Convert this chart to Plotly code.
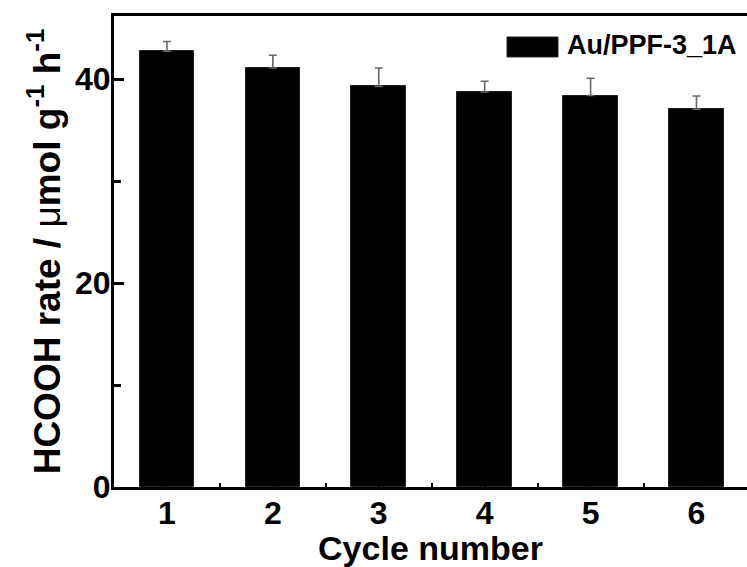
import plotly.graph_objects as go

# Photocatalytic HCOOH production over repeated cycles
cycles = [1, 2, 3, 4, 5, 6]
rates = [42.75, 41.1, 39.3, 38.75, 38.4, 37.05]
errors = [0.95, 1.25, 1.8, 1.05, 1.7, 1.3]
tick_labels = ["1", "2", "3", "4", "5", "6"]
series_name = "Au/PPF-3_1A"

FONT = "Liberation Sans, Arial, sans-serif"

fig = go.Figure()
fig.add_trace(go.Bar(
    x=cycles,
    y=rates,
    width=0.515,
    name=series_name,
    marker=dict(color="black", line=dict(color="#222", width=1)),
    error_y=dict(
        type="data",
        array=errors,
        arrayminus=[0] * len(errors),
        symmetric=False,
        color="#666",
        thickness=1.6,
        width=4,
    ),
    showlegend=False,
))

# legend key drawn as a wide swatch with its label
fig.add_shape(type="rect", xref="paper", yref="paper",
              x0=0.6209, x1=0.7014, y0=0.9130, y1=0.9554,
              fillcolor="black", line=dict(color="#222", width=1))
fig.add_annotation(xref="paper", yref="paper", x=0.7130, y=0.9384,
                   xanchor="left", yanchor="middle", showarrow=False,
                   text="<b>" + series_name + "</b>",
                   font=dict(family=FONT, size=27, color="black"))

fig.update_layout(
    width=747, height=567,
    margin=dict(l=114, r=0, t=16, b=80),
    paper_bgcolor="white", plot_bgcolor="white",
    font=dict(family=FONT, color="black"),
    bargap=0,
)

fig.update_xaxes(
    range=[0.5, 6.477],
    tickvals=cycles, ticktext=["<b>%s</b>" % t for t in tick_labels],
    ticks="inside", ticklen=4, tickwidth=2, tickcolor="black",
    minor=dict(tickvals=[1.5, 2.5, 3.5, 4.5, 5.5], ticks="inside", ticklen=4, tickwidth=2, tickcolor="black"),
    showline=True, linewidth=3, linecolor="black", mirror=True,
    showgrid=False, zeroline=False,
    tickfont=dict(size=32, family=FONT),
    ticklabelstandoff=-4,
    title=dict(text="<b>Cycle number</b>", font=dict(size=34, family=FONT), standoff=0),
)

fig.update_yaxes(
    range=[0, 46.2],
    tickvals=[0, 20, 40], ticktext=["<b>0</b>", "<b>20</b>", "<b>40</b>"],
    ticks="inside", ticklen=10, tickwidth=3, tickcolor="black",
    minor=dict(tickvals=[10, 30], ticks="inside", ticklen=7, tickwidth=3, tickcolor="black"),
    showline=True, linewidth=3, linecolor="black",
    showgrid=False, zeroline=False,
    tickfont=dict(size=32, family=FONT),
    ticklabelstandoff=-6,
    title=dict(
        text="<b>HCOOH rate / </b><span style='font-weight:normal'>μ</span><b>mol g<sup>-1</sup> h<sup>-1</sup></b>",
        font=dict(size=37, family=FONT), standoff=4),
)

fig.write_html("out.html")
